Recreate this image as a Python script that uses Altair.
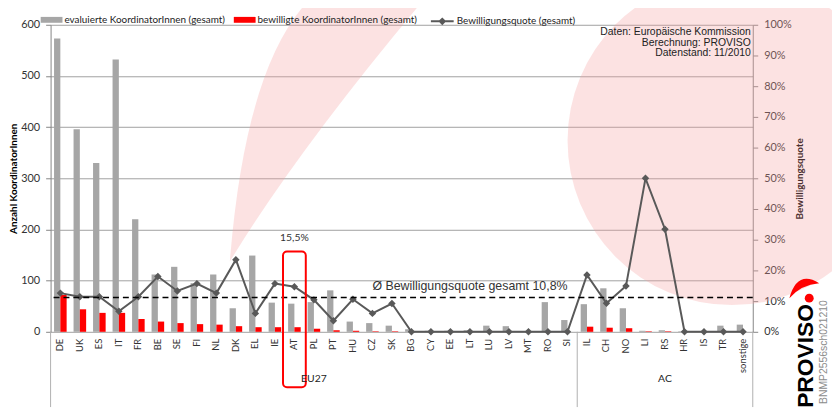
import altair as alt
import pandas as pd

# ---------------- data ----------------
countries = ["DE", "UK", "ES", "IT", "FR", "BE", "SE", "FI", "NL", "DK", "EL", "IE", "AT",
             "PL", "PT", "HU", "CZ", "SK", "BG", "CY", "EE", "LT", "LU", "LV", "MT", "RO",
             "SI", "IL", "CH", "NO", "LI", "RS", "HR", "IS", "TR", "sonstige"]
evaluated = [573, 396, 330, 532, 220, 112, 127, 95, 112, 46, 149, 57, 55,
             58, 81, 20, 17, 12, 5, 2, 2, 3, 12, 11, 1, 58,
             23, 54, 85, 46, 2, 3, 1, 1, 12, 14]
approved = [72, 44, 37, 37, 25, 20, 17, 15, 14, 11, 9, 9, 9,
            6, 3, 2, 1, 1, 0, 0, 0, 0, 0, 0, 0, 0,
            0, 10, 8, 7, 1, 1, 0, 0, 0, 0]
rates = [0.126, 0.114, 0.114, 0.067, 0.114, 0.180, 0.133, 0.157, 0.126, 0.235, 0.060, 0.157, 0.147,
         0.104, 0.036, 0.106, 0.060, 0.092, 0, 0, 0, 0, 0, 0, 0, 0,
         0, 0.185, 0.093, 0.149, 0.500, 0.334, 0, 0, 0, 0]

group_names = ["EU27", "AC"]
group_centers = ["PL", "RS"]
group_starts = ["DE", "IL"]

avg_label = "Ø Bewilligungsquote gesamt 10,8%"
avg_pos = 0.112
avg_label_at = "LT"
at_label = "15,5%"
at_country = "AT"
source_text = "Daten: Europäische Kommission\nBerechnung: PROVISO\nDatenstand: 11/2010"

S_EVAL = "evaluierte KoordinatorInnen (gesamt)"
S_APPR = "bewilligte KoordinatorInnen (gesamt)"
S_RATE = "Bewilligungsquote (gesamt)"

bars_df = pd.DataFrame({
    "country": countries + countries,
    "series": [S_EVAL] * len(countries) + [S_APPR] * len(countries),
    "value": evaluated + approved,
})
line_df = pd.DataFrame({"country": countries, "rate": rates, "series": [S_RATE] * len(countries)})
avg_df = pd.DataFrame({"country": [avg_label_at], "pos": [avg_pos], "label": [avg_label]})
at_df = pd.DataFrame({"country": [at_country], "label": [at_label]})
grp_df = pd.DataFrame({"country": group_centers, "group": group_names})
sep_df = pd.DataFrame({"country": group_starts})
sep_end_df = pd.DataFrame({"country": [countries[-1]]})
one = pd.DataFrame({"d": [0]})

# ---------------- scales / styles ----------------
x_scale = alt.Scale(domain=countries, paddingInner=0, paddingOuter=0)
y_left = alt.Scale(domain=[0, 600])
y_right = alt.Scale(domain=[0, 1])
AX = "#868686"
TXT = "#333333"

x_axis = alt.Axis(title=None, labels=False, tickBand="extent", tickSize=37,
                  tickColor="#c4c4c4", domainColor=AX, grid=False)

# ---------------- decoration (watermark) ----------------
pink = "#f5a0a0"
circle = alt.Chart(one).mark_point(shape="circle", filled=True, color=pink, opacity=0.3,
                                   size=332 * 332).encode(
    x=alt.value(688), y=alt.value(117))
crescent = alt.Chart(one).mark_point(
    shape="M-0.726,0.978Q-0.607,-0.519,-0.111,-1L0.741,-1Q-0.222,0.148,-0.726,0.978Z",
    filled=True, color=pink, opacity=0.3, size=270 * 270).encode(
    x=alt.value(279), y=alt.value(107))

bars = alt.Chart(bars_df).mark_bar().encode(
    x=alt.X("country:N", scale=x_scale, axis=x_axis),
    xOffset=alt.XOffset("series:N", scale=alt.Scale(domain=[S_EVAL, S_APPR],
                                                     paddingOuter=0.55, paddingInner=0)),
    y=alt.Y("value:Q", scale=y_left,
            axis=alt.Axis(title="Anzahl KoordinatorInnen", titleFontWeight="bold",
                          titleFontSize=10, titleColor="#000000", titlePadding=2,
                          values=[0, 100, 200, 300, 400, 500, 600], labelFontSize=11,
                          labelColor=TXT, tickSize=5, tickColor=AX, domainColor=AX,
                          gridColor="#a0a0a0", labelPadding=6)),
    color=alt.Color("series:N", scale=alt.Scale(domain=[S_EVAL, S_APPR],
                                                range=["#a6a6a6", "#ff0000"]),
                    legend=alt.Legend(title=None, orient="none", legendX=-10, legendY=-16,
                                      direction="horizontal",
                                      symbolType="M-1,-0.27H1V0.27H-1Z", symbolSize=484,
                                      symbolStrokeWidth=0, labelFontSize=10,
                                      labelColor="#222222", columnPadding=8, labelOffset=2,
                                      padding=0, labelLimit=300)),
)

# ---------------- right-scale marks ----------------
line = alt.Chart(line_df).mark_line(
    strokeWidth=2,
    point=alt.OverlayMarkDef(shape="diamond", size=22, filled=True, color="#595959")).encode(
    x=alt.X("country:N", scale=x_scale, axis=None),
    y=alt.Y("rate:Q", scale=y_right,
            axis=alt.Axis(orient="right", format="%", title="Bewilligungsquote",
                          titleAngle=270, titleFontWeight="bold", titleFontSize=10,
                          titleColor="#000000", titlePadding=13,
                          values=[0, 0.1, 0.2, 0.3, 0.4, 0.5, 0.6, 0.7, 0.8, 0.9, 1.0],
                          labelFontSize=11, labelColor=TXT, tickSize=5, tickColor=AX,
                          domainColor=AX, grid=False, labelPadding=6)),
    stroke=alt.Stroke("series:N", scale=alt.Scale(domain=[S_RATE], range=["#595959"]),
                      legend=alt.Legend(title=None, orient="none", legendX=383, legendY=-16,
                                        symbolType="M-1,0H1M-0.22,0L0,-0.22L0.22,0L0,0.22Z",
                                        symbolSize=529, symbolStrokeWidth=2,
                                        symbolFillColor="#595959", labelFontSize=10,
                                        labelColor="#222222", labelOffset=2, padding=0,
                                        labelLimit=300)),
)

avg_rule = alt.Chart(avg_df).mark_rule(color="#000000", strokeDash=[6, 4], strokeWidth=1.5).encode(
    y=alt.Y("pos:Q", scale=y_right, axis=None))
avg_text = alt.Chart(avg_df).mark_text(font="Liberation Sans", fontSize=12.5, color=TXT,
                                       dy=-11).encode(
    x=alt.X("country:N", scale=x_scale, axis=None),
    y=alt.Y("pos:Q", scale=y_right, axis=None),
    text="label:N")

cat_labels = alt.Chart(line_df).mark_text(angle=270, align="right", baseline="middle",
                                          fontSize=9.5, color=TXT).encode(
    x=alt.X("country:N", scale=x_scale, axis=None), y=alt.value(317), text="country:N")

at_text = alt.Chart(at_df).mark_text(fontSize=10.5, color=TXT).encode(
    x=alt.X("country:N", scale=x_scale, axis=None), y=alt.value(215), text="label:N")
at_box = alt.Chart(at_df).mark_bar(fillOpacity=0, stroke="#ff0000", strokeWidth=2,
                                   cornerRadius=4, size=23).encode(
    x=alt.X("country:N", scale=x_scale, axis=None), y=alt.value(229), y2=alt.value(366))

sep = alt.Chart(sep_df).mark_rule(color="#b0b0b0").encode(
    x=alt.X("country:N", scale=x_scale, axis=None, bandPosition=0),
    y=alt.value(310), y2=alt.value(386))
sep_end = alt.Chart(sep_end_df).mark_rule(color="#b0b0b0").encode(
    x=alt.X("country:N", scale=x_scale, axis=None, bandPosition=1),
    y=alt.value(310), y2=alt.value(386))
grp_text = alt.Chart(grp_df).mark_text(fontSize=10.5, color="#222222").encode(
    x=alt.X("country:N", scale=x_scale, axis=None), y=alt.value(358), text="group:N")

src = alt.Chart(one).mark_text(text=source_text, lineBreak="\n", lineHeight=11,
                               align="right", baseline="alphabetic",
                               font="Liberation Sans", fontSize=10.5, color="#222222").encode(
    x=alt.value(707), y=alt.value(10))

logo_word = alt.Chart(one).mark_text(text="PROVISO", font="Liberation Sans", fontWeight="bold",
                                     fontSize=23, angle=270, align="right",
                                     baseline="alphabetic", color="#000000").encode(
    x=alt.value(770), y=alt.value(282))
logo_id = alt.Chart(one).mark_text(text="BNMP2556sch021210", font="Liberation Sans",
                                   fontSize=10.5, angle=270, align="right",
                                   baseline="alphabetic", color="#8c8c8c").encode(
    x=alt.value(784), y=alt.value(278))
logo_swoosh = alt.Chart(one).mark_point(
    shape="M-0.94,0.5Q-0.44,-1.3,0.94,-0.44Q-0.2,-0.35,-0.94,0.5Z",
    filled=True, color="#ff0000", opacity=1, size=1024).encode(
    x=alt.value(761), y=alt.value(268))
logo_dot = alt.Chart(one).mark_point(shape="circle", filled=True, color="#ff0000",
                                     opacity=1, size=81).encode(
    x=alt.value(766), y=alt.value(276))

chart = alt.layer(
    circle, crescent, bars, line, avg_rule, avg_text, cat_labels, at_text, at_box,
    sep, sep_end, grp_text, src, logo_word, logo_id, logo_swoosh, logo_dot
).resolve_scale(y="independent").properties(
    width=709, height=310,
    padding={"left": 43, "top": 15, "right": 80, "bottom": 76},
    autosize=alt.AutoSizeParams(type="none"),
).configure(font="Lato").configure_view(strokeWidth=0)

chart.save("out.html", embed_options={"renderer": "svg", "actions": False})
